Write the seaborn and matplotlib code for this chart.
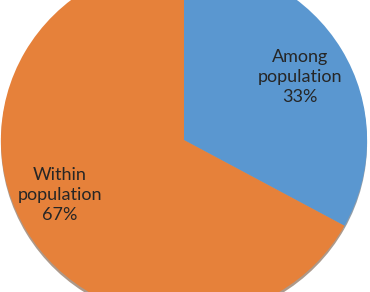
import matplotlib
matplotlib.use("Agg")
import matplotlib.pyplot as plt
import seaborn as sns

categories = ["Among\npopulation", "Within\npopulation"]
values = [33, 67]
colors = ["#5A97D0", "#E6813A"]

sns.set_theme(style="white")
plt.rcParams['font.family'] = ['Lato', 'DejaVu Sans']

fig = plt.figure(figsize=(3.70, 2.92), dpi=100)
ax = fig.add_axes([0, 0, 1, 1])

labels = [f"{c}\n{v}%" for c, v in zip(categories, values)]
wedges, texts = ax.pie(values, labels=labels, colors=colors, startangle=90,
                       counterclock=False, labeldistance=0.73,
                       wedgeprops=dict(linewidth=0),
                       shadow=dict(ox=0.0, oy=-0.012, shade=0.6),
                       textprops=dict(fontsize=13, color="#262626"))
label_pos = [(0.634, 0.354), (-0.678, -0.309)]
for t, p in zip(texts, label_pos):
    t.set_position(p)
    t.set_horizontalalignment("center")
    t.set_verticalalignment("center")
    t.set_linespacing(1.32)

ax.set_aspect("auto")
ax.set_xlim(-1.005, 1.016)
ax.set_ylim(-0.854, 0.787)
ax.axis("off")

fig.savefig("out.png", dpi=100)
